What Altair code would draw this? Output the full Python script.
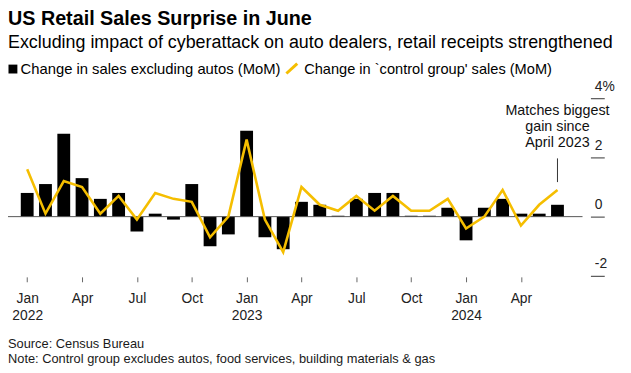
import altair as alt
import pandas as pd

# ---- data ----
months = ["2022-01", "2022-02", "2022-03", "2022-04", "2022-05", "2022-06",
          "2022-07", "2022-08", "2022-09", "2022-10", "2022-11", "2022-12",
          "2023-01", "2023-02", "2023-03", "2023-04", "2023-05", "2023-06",
          "2023-07", "2023-08", "2023-09", "2023-10", "2023-11", "2023-12",
          "2024-01", "2024-02", "2024-03", "2024-04", "2024-05", "2024-06"]
sales_ex_autos = [0.8, 1.1, 2.8, 1.3, 0.6, 0.8, -0.5, 0.1, -0.1, 1.1, -1.0, -0.6,
                  2.9, -0.7, -1.1, 0.5, 0.4, 0.03, 0.6, 0.8, 0.8, 0.03, 0.03, 0.3,
                  -0.8, 0.3, 0.6, 0.1, 0.1, 0.4]
control_group = [1.6, 0.1, 1.2, 1.0, 0.1, 0.7, -0.1, 0.8, 0.6, 0.5, -0.7, 0.0,
                 2.6, -0.1, -1.2, 1.0, 0.4, 0.2, 0.7, 0.2, 0.7, 0.2, 0.2, 0.6,
                 -0.4, 0.0, 0.9, -0.3, 0.4, 0.9]
tick_labels = [["Jan", "2022"], ["Apr"], ["Jul"], ["Oct"],
               ["Jan", "2023"], ["Apr"], ["Jul"], ["Oct"],
               ["Jan", "2024"], ["Apr"]]
y_ticks = [-2, 0, 2, 4]

title = "US Retail Sales Surprise in June"
subtitle = "Excluding impact of cyberattack on auto dealers, retail receipts strengthened"
legend1 = "Change in sales excluding autos (MoM)"
legend2 = "Change in `control group' sales (MoM)"
annotation = "Matches biggest\ngain since\nApril 2023"
source = "Source: Census Bureau"
note = "Note: Control group excludes autos, food services, building materials & gas"

FONT = "Liberation Sans"
YELLOW = "#F5BE00"

df = pd.DataFrame({
    "month": months,
    "i": list(range(len(months))),
    "sales": sales_ex_autos,
    "control": control_group,
})

W, H = 582, 180
x_scale = alt.Scale(domain=[-0.78, 30.1], nice=False, zero=False)
y_scale = alt.Scale(domain=[-2, 4], nice=False)

tick_vals = [3 * k for k in range(len(tick_labels))]
label_expr = "[" + ",".join(
    "[" + ",".join("'" + s + "'" for s in lab) + "]" for lab in tick_labels
) + "][datum.value / 3]"

x_enc = alt.X("i:Q", scale=x_scale, title=None,
              axis=alt.Axis(values=tick_vals, labelExpr=label_expr, domain=False, grid=False,
                            tickSize=5, tickColor="#666", offset=1, labelPadding=10,
                            labelFontSize=14, labelFont=FONT, labelColor="#222",
                            labelLineHeight=17, labelBaseline="top",
                            labelFlush=False, labelOverlap=False, labelBound=False))
y_enc = alt.Y("sales:Q", scale=y_scale, title=None,
              axis=alt.Axis(orient="right", values=y_ticks, domain=False, grid=False,
                            offset=8, tickSize=14, tickColor="#555", tickWidth=1.2,
                            labelExpr="datum.value == 4 ? '4%' : toString(datum.value)",
                            labelAlign="left", labelPadding=-10, labelBaseline="alphabetic",
                            labelOffset=-8, labelFontSize=14, labelFont=FONT, labelColor="#222"))

base = alt.Chart(df)
bars = base.mark_bar(color="black", size=13).encode(x=x_enc, y=y_enc)
zero = alt.Chart(pd.DataFrame({"z": [0]})).mark_rule(color="#555", strokeWidth=1).encode(
    y=alt.Y("z:Q", scale=y_scale))
line = base.mark_line(color=YELLOW, strokeWidth=2.6).encode(
    x=alt.X("i:Q", scale=x_scale), y=alt.Y("control:Q", scale=y_scale))

last = pd.DataFrame({"i": [len(months) - 1]})
annot = alt.Chart(last).mark_text(text=annotation, lineBreak="\n", lineHeight=16, fontSize=14.5,
                                  font=FONT, align="center", baseline="alphabetic", color="#111").encode(
    x=alt.X("i:Q", scale=x_scale), y=alt.value(17))
leader = alt.Chart(last).mark_rule(color="#333", strokeWidth=1).encode(
    x=alt.X("i:Q", scale=x_scale), y=alt.value(61), y2=alt.value(85))

one = pd.DataFrame({"k": [0]})


def txt(s, x, y, size, weight="normal", color="#000"):
    return alt.Chart(one).mark_text(text=s, fontSize=size, fontWeight=weight, font=FONT,
                                    align="left", baseline="alphabetic", color=color).encode(
        x=alt.value(x), y=alt.value(y))


t_title = txt(title, 0, -74.5, 20, "bold")
t_sub = txt(subtitle, 0, -50.5, 18.1)
t_leg1 = txt(legend1, 12.7, -24.5, 15)
t_leg2 = txt(legend2, 300, -24.5, 14.8)
sq = alt.Chart(one).mark_rect(color="black").encode(
    x=alt.value(0.5), x2=alt.value(9.5), y=alt.value(-34), y2=alt.value(-25))
slash = alt.Chart(one).mark_rule(color=YELLOW, strokeWidth=3).encode(
    x=alt.value(282), x2=alt.value(293), y=alt.value(-25), y2=alt.value(-35))
t_src = txt(source, 0, 253, 13, color="#1a1a1a")
t_note = txt(note, 0, 268.5, 13, color="#1a1a1a")

chart = alt.layer(
    bars, zero, line, annot, leader,
    t_title, t_sub, sq, t_leg1, slash, t_leg2, t_src, t_note
).properties(
    width=W, height=H,
    autosize=alt.AutoSizeParams(type="none"),
    padding={"left": 0, "top": 89, "right": 41, "bottom": 92},
).configure(background="white", view=alt.ViewConfig(stroke=None))

chart.save("out.html", embed_options={"renderer": "svg", "actions": False})
